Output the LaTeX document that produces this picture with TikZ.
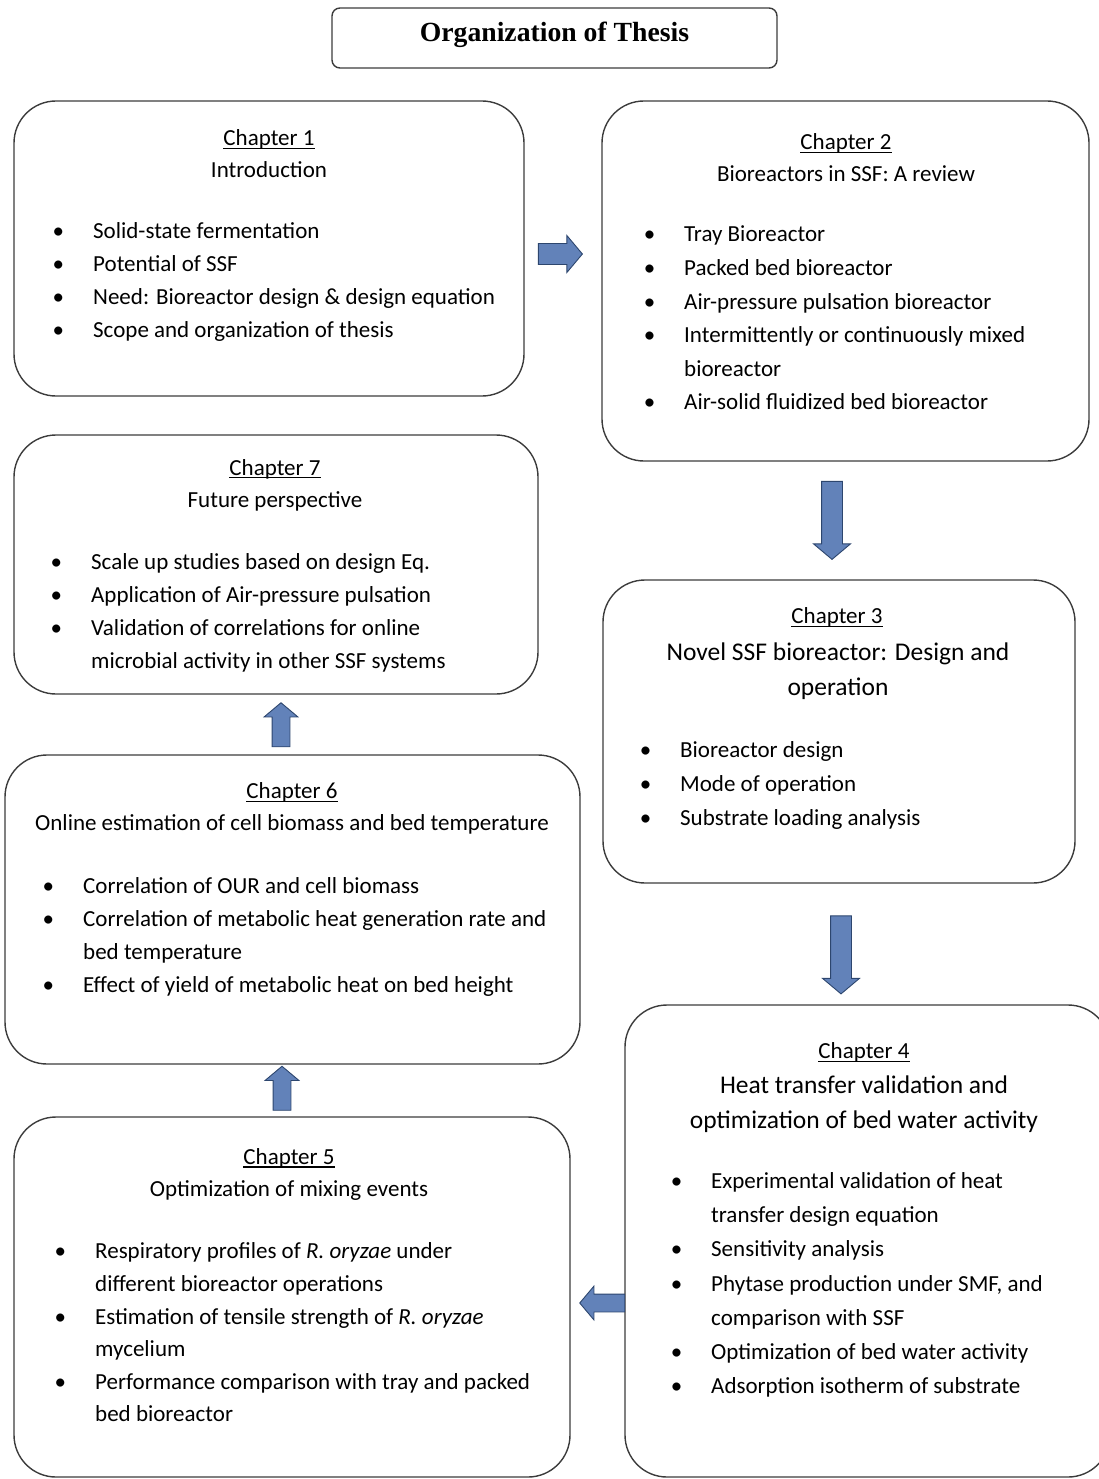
\documentclass[tikz,border=0pt]{standalone}
\usepackage{fontspec}
\setmainfont{Carlito}
\newfontfamily\titlefont{Liberation Serif}
\usetikzlibrary{shapes.arrows}

\definecolor{arrfill}{RGB}{98,130,185}
\definecolor{arrline}{RGB}{45,70,110}
\definecolor{boxline}{RGB}{60,60,60}

\newcommand{\bul}{\llap{\textbullet\hspace{29pt}}}
\newcommand{\chul}[1]{\setbox0\hbox{#1}\rlap{\rule[-3pt]{\wd0}{1.1pt}}\box0}

\tikzset{
  chapbox/.style={draw=boxline, line width=1.4pt, rounded corners=42pt, inner sep=0pt},
  chaphead/.style={align=center, inner sep=0pt, font=\fontsize{23}{32}\selectfont},
  bighead/.style={align=center, inner sep=0pt, font=\fontsize{25.5}{35}\selectfont},
  itemlist/.style={align=left, inner sep=0pt, anchor=west, font=\fontsize{23}{33}\selectfont},
  blockarr/.style={single arrow, draw=arrline, fill=arrfill, line width=0.9pt,
    inner sep=0pt, single arrow tip angle=100, single arrow head extend=8pt}
}

\begin{document}
\begin{tikzpicture}[x=1pt, y=-1pt]
  \useasboundingbox (0,0) rectangle (1099,1479);

  % title
  \node[draw=boxline, line width=1.4pt, rounded corners=8pt, minimum width=445pt,
        minimum height=60pt, text height=19pt, text depth=11pt,
        font=\titlefont\bfseries\fontsize{27.7}{30}\selectfont]
        (title) at (554.5,38) {Organization of Thesis};

  % Chapter 1
  \node[chapbox, minimum width=510pt, minimum height=295pt] (ch1) at (269,248.5) {};
  \node[chaphead] (ch1head) at (269,154) {\chul{Chapter 1}\\Introduction};
  \node[itemlist] (ch1list) at (93,282) {%
    \bul Solid-state fermentation\\
    \bul Potential of SSF\\
    \bul Need: Bioreactor design \& design equation\\
    \bul Scope and organization of thesis};

  % Chapter 2
  \node[chapbox, minimum width=487pt, minimum height=360pt] (ch2) at (845.5,281) {};
  \node[chaphead] (ch2head) at (846,158) {\chul{Chapter 2}\\Bioreactors in SSF: A review};
  \node[itemlist, font=\fontsize{23}{33.6}\selectfont] (ch2list) at (684,318) {%
    \bul Tray Bioreactor\\
    \bul Packed bed bioreactor\\
    \bul Air-pressure pulsation bioreactor\\
    \bul Intermittently or continuously mixed\\
    bioreactor\\
    \bul Air-solid fluidized bed bioreactor};

  % Chapter 7
  \node[chapbox, minimum width=524pt, minimum height=259pt] (ch7) at (276,564.5) {};
  \node[chaphead] (ch7head) at (275,485) {\chul{Chapter 7}\\Future perspective};
  \node[itemlist] (ch7list) at (91,613) {%
    \bul Scale up studies based on design Eq.\\
    \bul Application of Air-pressure pulsation\\
    \bul Validation of correlations for online\\
    microbial activity in other SSF systems};

  % Chapter 3
  \node[chapbox, minimum width=472pt, minimum height=303pt] (ch3) at (839,731.5) {};
  \node[chaphead] (ch3num) at (837,617.5) {\chul{Chapter 3}};
  \node[bighead] (ch3head) at (838,671) {Novel SSF bioreactor: Design and\\operation};
  \node[itemlist, font=\fontsize{23}{34}\selectfont] (ch3list) at (680,785) {%
    \bul Bioreactor design\\
    \bul Mode of operation\\
    \bul Substrate loading analysis};

  % Chapter 6
  \node[chapbox, minimum width=575pt, minimum height=309pt] (ch6) at (292.5,909.5) {};
  \node[chaphead] (ch6head) at (292,808.5) {\chul{Chapter 6}\\Online estimation of cell biomass and bed temperature};
  \node[itemlist] (ch6list) at (83,937) {%
    \bul Correlation of OUR and cell biomass\\
    \bul Correlation of metabolic heat generation rate and\\
    bed temperature\\
    \bul Effect of yield of metabolic heat on bed height};

  % Chapter 4
  \node[chapbox, minimum width=485pt, minimum height=472pt] (ch4) at (867.5,1241) {};
  \node[chaphead] (ch4num) at (864,1052.5) {\chul{Chapter 4}};
  \node[bighead] (ch4head) at (864,1104) {Heat transfer validation and\\optimization of bed water activity};
  \node[itemlist, font=\fontsize{23}{34.2}\selectfont] (ch4list) at (711,1285) {%
    \bul Experimental validation of heat\\
    transfer design equation\\
    \bul Sensitivity analysis\\
    \bul Phytase production under SMF, and\\
    comparison with SSF\\
    \bul Optimization of bed water activity\\
    \bul Adsorption isotherm of substrate};

  % Chapter 5
  \node[chapbox, minimum width=556pt, minimum height=360pt] (ch5) at (292,1297) {};
  \node[chaphead] (ch5head) at (289,1174.5) {\chul{Chapter 5}\\Optimization of mixing events};
  \node[itemlist, font=\fontsize{23}{32.6}\selectfont] (ch5list) at (95,1332.5) {%
    \bul Respiratory profiles of \textit{R. oryzae} under\\
    different bioreactor operations\\
    \bul Estimation of tensile strength of \textit{R. oryzae}\\
    mycelium\\
    \bul Performance comparison with tray and packed\\
    bed bioreactor};

  % block arrows between chapters
  \node[blockarr, inner ysep=10pt, minimum height=44pt] (a12) at (556,254) {};
  \node[blockarr, inner ysep=10pt, minimum height=78pt, rotate=-90] (a23) at (832,516) {};
  \node[blockarr, inner ysep=10pt, minimum height=78pt, rotate=-90] (a34) at (841,950.5) {};
  \node[blockarr, inner ysep=8.5pt, minimum height=45pt, rotate=180] (a45) at (606,1303) {};
  \node[blockarr, inner ysep=8.5pt, minimum height=44pt, rotate=90] (a56) at (282,1092) {};
  \node[blockarr, inner ysep=8.5pt, minimum height=44pt, rotate=90] (a67) at (281,728.5) {};
\end{tikzpicture}
\end{document}
